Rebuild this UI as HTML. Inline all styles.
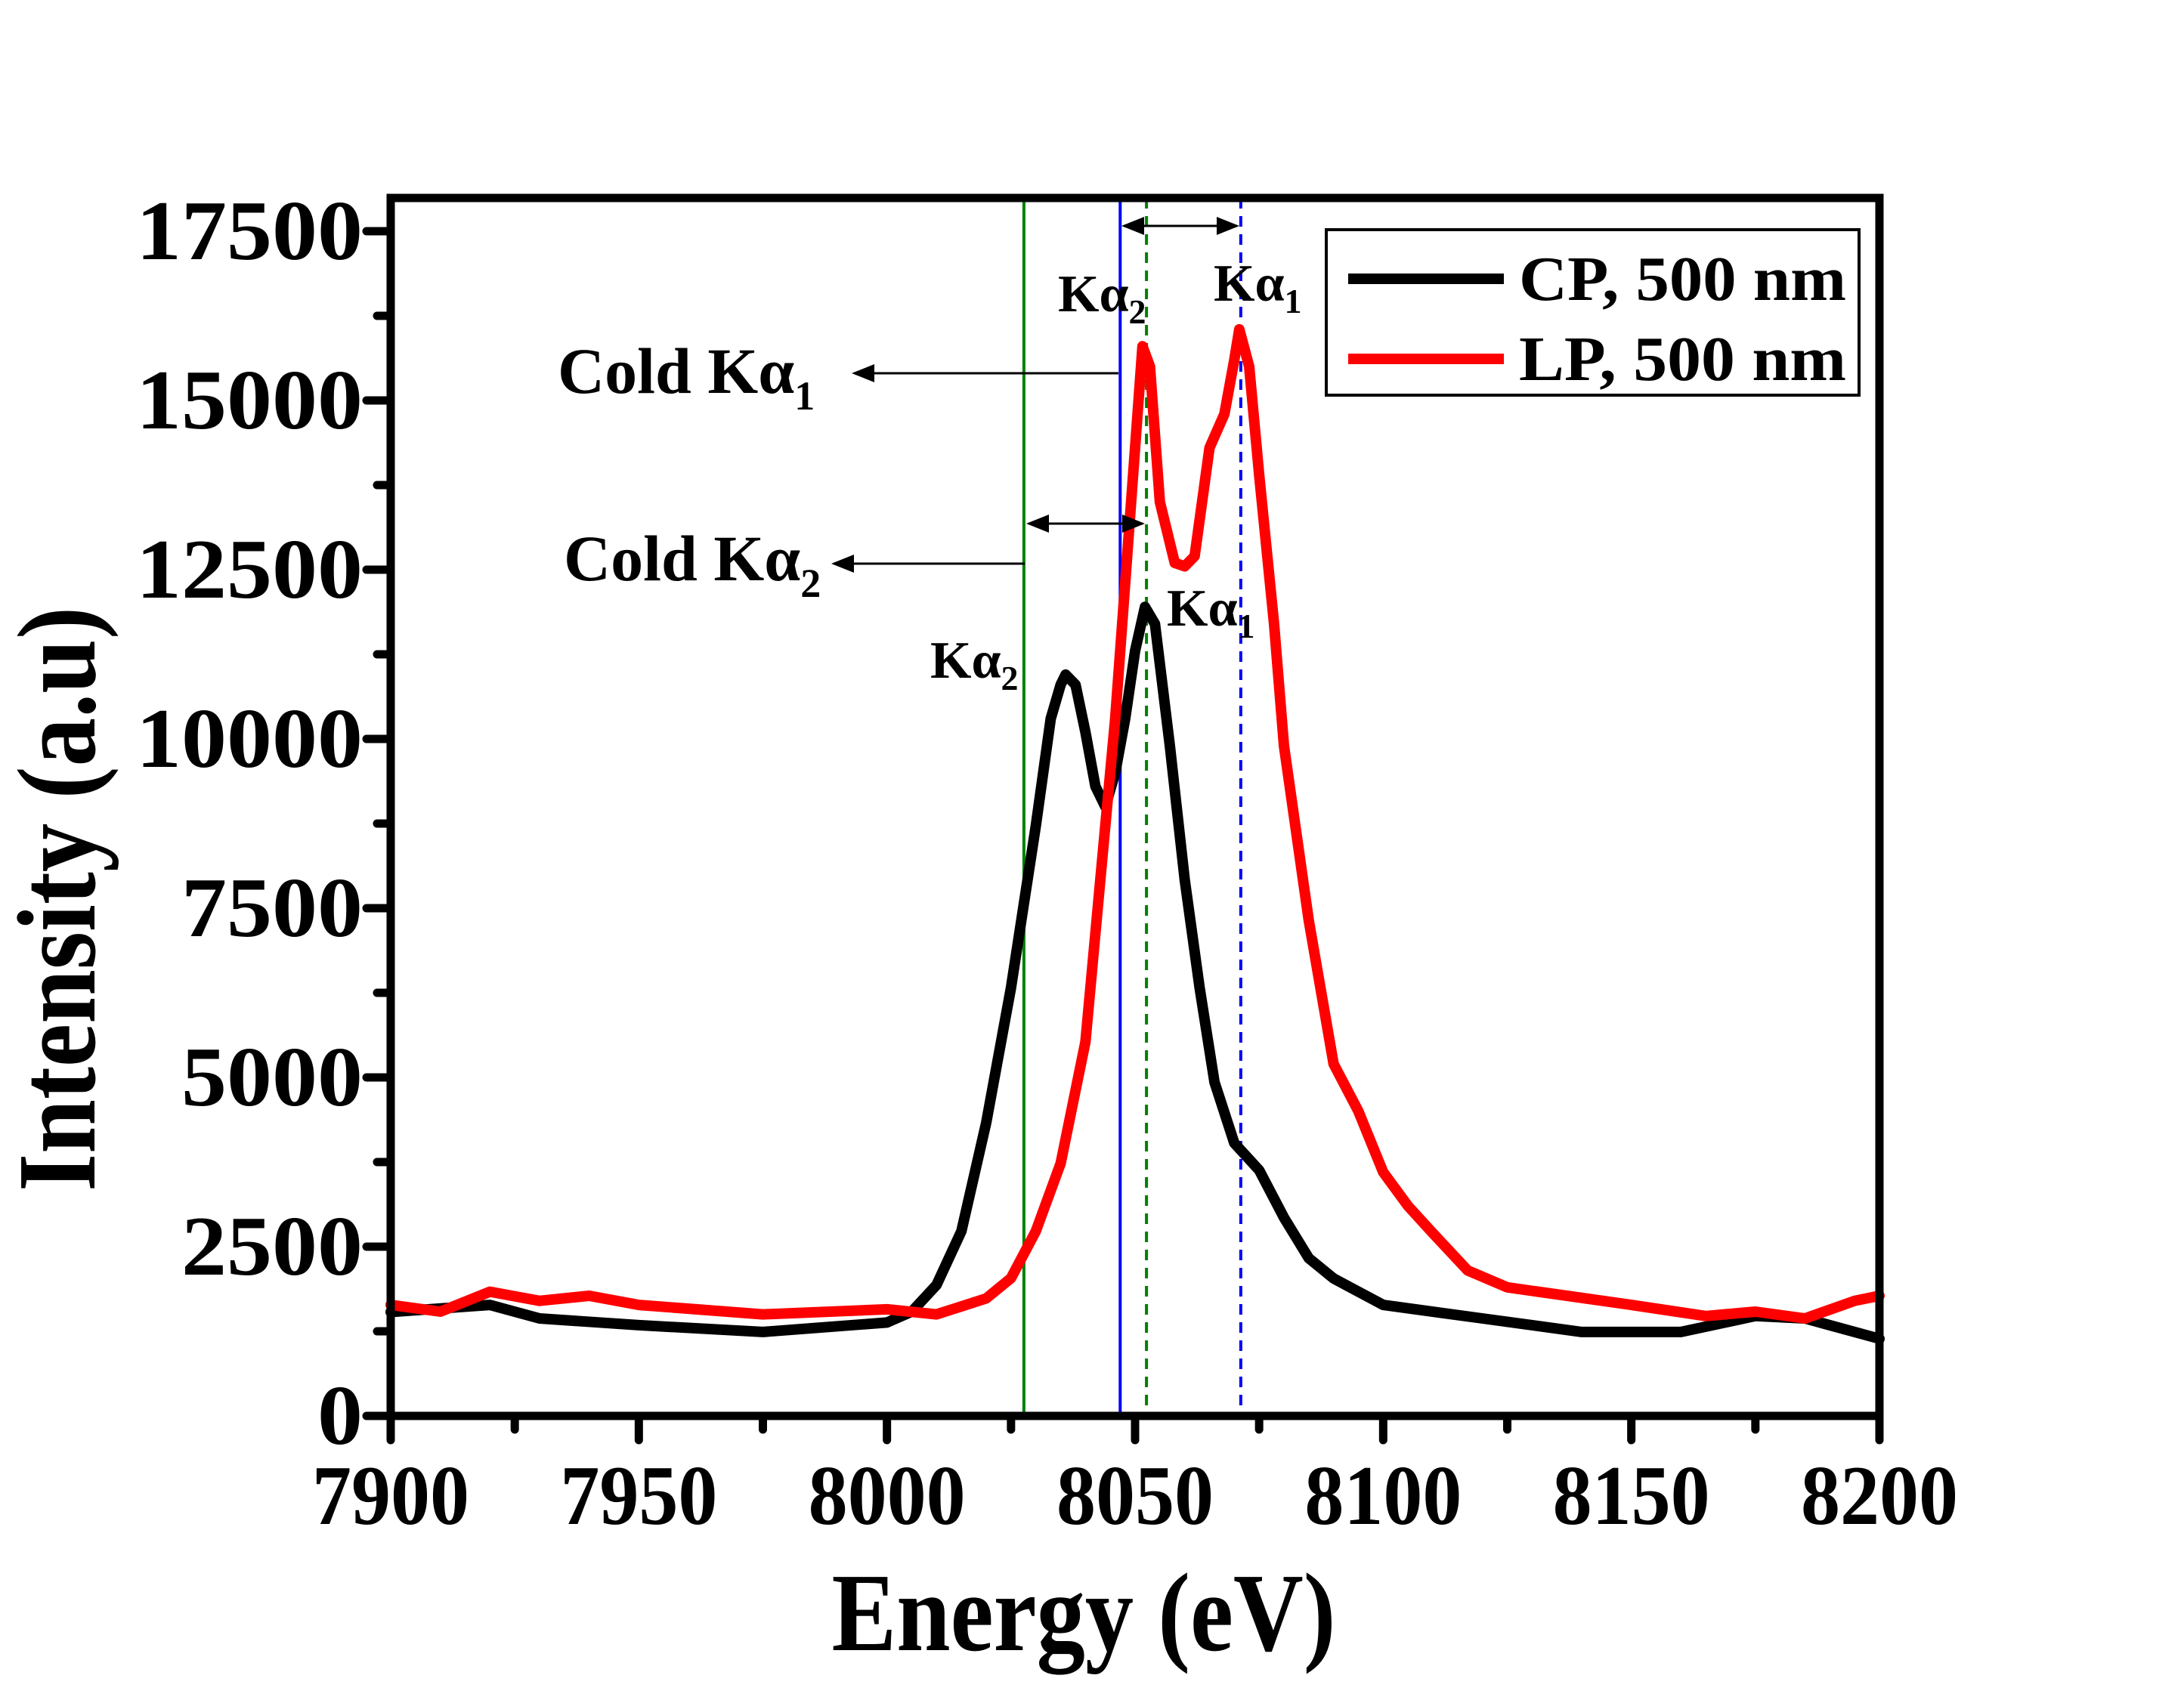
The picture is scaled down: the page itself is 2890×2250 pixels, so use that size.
<!DOCTYPE html>
<html><head><meta charset="utf-8"><style>
html,body{margin:0;padding:0;background:#fff}
svg{display:block}
text{font-family:"Liberation Serif",serif;font-weight:bold;fill:#000}
</style></head><body>
<svg id="chart" width="2890" height="2250" viewBox="0 0 2890 2250" xmlns="http://www.w3.org/2000/svg" style="position:absolute;left:0;top:0">
<g id="marks"></g>
<g id="axes"></g>
</svg>
<script>
const cpE = [7900,7920,7930,7950,7975,8000,8005,8010,8015,8020,8025,8030,8033,8035,8036,8038,8040,8042,8044,8046,8048,8050,8052,8054,8057,8060,8063,8066,8070,8075,8080,8085,8090,8100,8120,8140,8160,8175,8185,8200];
const cpI = [1535,1640,1440,1340,1240,1380,1540,1935,2730,4330,6325,8720,10300,10800,10950,10800,10100,9300,9000,9500,10300,11300,11950,11700,9900,7920,6325,4930,4030,3630,2930,2330,2030,1640,1440,1240,1240,1475,1440,1140];
const lpE = [7900,7910,7920,7930,7940,7950,7975,8000,8010,8020,8025,8030,8035,8040,8043,8046,8048,8050,8051.5,8053,8055,8058,8060,8062,8065,8068,8070,8071,8073,8075,8078,8080,8085,8090,8095,8100,8105,8110,8117,8125,8150,8165,8175,8185,8195,8200];
const lpI = [1640,1540,1835,1700,1775,1640,1500,1575,1500,1735,2035,2730,3730,5525,7920,10300,12300,14300,15800,15500,13500,12600,12550,12700,14300,14800,15600,16050,15500,13900,11700,9900,7320,5200,4500,3600,3100,2700,2150,1900,1640,1475,1540,1440,1700,1775];
const xTicks = [7900,7950,8000,8050,8100,8150,8200];
const yTicks = [0,2500,5000,7500,10000,12500,15000,17500];
const refLines = [8027.6,8047,8052.3,8071.3];

const X0=517,X1=2487,Y0=1874,Y1=262;
const xs = e => X0 + (e-7900)/(300)*(X1-X0);
const ys = v => Y0 - v/17500*(Y0-306);
const NS="http://www.w3.org/2000/svg";
const marks=document.getElementById('marks'), axes=document.getElementById('axes');
function mk(tag, attrs, parent){const el=document.createElementNS(NS,tag);for(const k in attrs)el.setAttribute(k,attrs[k]);parent.appendChild(el);return el;}

const refCols=['#008000','#0000ff','#008000','#0000ff'];
const refDash=[null,null,'14,10','14,10'];
refLines.forEach((e,i)=>{
  const l=mk('line',{x1:xs(e),x2:xs(e),y1:Y1,y2:Y0,stroke:refCols[i],'stroke-width':4},marks);
  if(refDash[i]) l.setAttribute('stroke-dasharray',refDash[i]);
  
  
});

function series(E,I,col,name){
  const d=E.map((e,i)=>(i?'L':'M')+xs(e).toFixed(1)+','+ys(I[i]).toFixed(1)).join(' ');
  const p=mk('path',{d:d,fill:'none',stroke:col,'stroke-width':14,'stroke-linejoin':'round','stroke-linecap':'round'},marks);
  
  
}
series(cpE,cpI,'#000','cp-500nm-line');
series(lpE,lpI,'#ff0000','lp-500nm-line');

const fr=mk('rect',{x:X0,y:Y1,width:X1-X0,height:Y0-Y1,fill:'none',stroke:'#000','stroke-width':11},axes);



xTicks.forEach((t,i)=>{
  mk('line',{x1:xs(t),x2:xs(t),y1:Y0,y2:Y0+32,stroke:'#000','stroke-width':11,'stroke-linecap':'round'},axes);
  if(i<xTicks.length-1){const m=t+25;mk('line',{x1:xs(m),x2:xs(m),y1:Y0,y2:Y0+18,stroke:'#000','stroke-width':11,'stroke-linecap':'round'},axes);}
  const tx=mk('text',{x:xs(t),y:2017,'font-size':112,'text-anchor':'middle',textLength:208,lengthAdjust:'spacingAndGlyphs'},axes);
  tx.textContent=t;
  
  
});
yTicks.forEach((t,i)=>{
  mk('line',{x1:X0,x2:X0-32,y1:ys(t),y2:ys(t),stroke:'#000','stroke-width':11,'stroke-linecap':'round'},axes);
  if(i<yTicks.length-1){const m=t+1250;mk('line',{x1:X0,x2:X0-18,y1:ys(m),y2:ys(m),stroke:'#000','stroke-width':11,'stroke-linecap':'round'},axes);}
  const s=String(t);
  const tx=mk('text',{x:480,y:ys(t)+37,'font-size':112,'text-anchor':'end',textLength:(s.length*60).toString(),lengthAdjust:'spacingAndGlyphs'},axes);
  tx.textContent=s;
  
  
});
</script>
<svg style="position:absolute;left:0;top:0" width="2890" height="2250" viewBox="0 0 2890 2250" xmlns="http://www.w3.org/2000/svg">
<defs>
<marker id="ah2" markerWidth="10" markerHeight="8" refX="9" refY="4" orient="auto-start-reverse" markerUnits="strokeWidth"><path d="M0,0 L10,4 L0,8 z" fill="#000"/></marker>
</defs>
<text x="1434" y="2184" font-size="148" text-anchor="middle" textLength="667" lengthAdjust="spacingAndGlyphs" style="font-family:'Liberation Serif',serif;font-weight:bold">Energy (eV)</text>
<text transform="translate(125,1190) rotate(-90)" font-size="148" text-anchor="middle" textLength="774" lengthAdjust="spacingAndGlyphs" style="font-family:'Liberation Serif',serif;font-weight:bold">Intensity (a.u)</text>

<g style="font-family:'Liberation Serif',serif;font-weight:bold">
<rect x="1755" y="304" width="705" height="219" fill="#fff" stroke="#000" stroke-width="4"/>
<line x1="1784" x2="1990" y1="369" y2="369" stroke="#000" stroke-width="14"/>
<text x="2010" y="397" font-size="84" textLength="433" lengthAdjust="spacingAndGlyphs">CP, 500 nm</text>
<line x1="1784" x2="1990" y1="475" y2="475" stroke="#ff0000" stroke-width="14"/>
<text x="2010" y="503" font-size="84" textLength="433" lengthAdjust="spacingAndGlyphs">LP, 500 nm</text>
</g>

<g style="font-family:'Liberation Serif',serif;font-weight:bold">
<line x1="1480" y1="494" x2="1130" y2="494" stroke="#000" stroke-width="3" marker-end="url(#ah2)"/>
<line x1="1356" y1="746" x2="1103" y2="746" stroke="#000" stroke-width="3" marker-end="url(#ah2)"/>
<line x1="1361" y1="693" x2="1512" y2="693" stroke="#000" stroke-width="3" marker-start="url(#ah2)" marker-end="url(#ah2)"/>
<line x1="1487" y1="299" x2="1637" y2="299" stroke="#000" stroke-width="3" marker-start="url(#ah2)" marker-end="url(#ah2)"/>
<text x="738" y="520" font-size="86">Cold Kα<tspan font-size="54" dy="22">1</tspan></text>
<text x="746" y="768" font-size="86">Cold Kα<tspan font-size="54" dy="22">2</tspan></text>
<text x="1400" y="412" font-size="70">Kα<tspan font-size="46" dy="16">2</tspan></text>
<text x="1606" y="398" font-size="70">Kα<tspan font-size="46" dy="16">1</tspan></text>
<text x="1544" y="828" font-size="70">Kα<tspan font-size="46" dy="16">1</tspan></text>
<text x="1231" y="897" font-size="70">Kα<tspan font-size="46" dy="16">2</tspan></text>
</g>
</svg>
</body></html>
